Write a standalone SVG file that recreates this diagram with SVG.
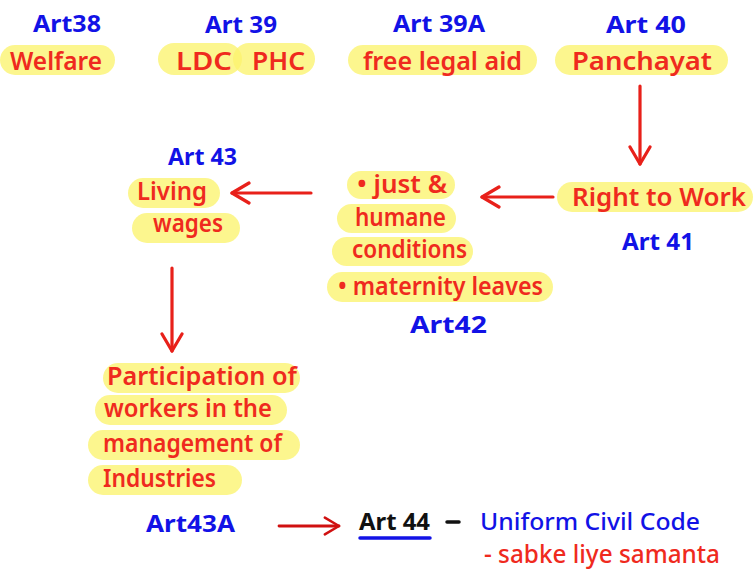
<svg xmlns="http://www.w3.org/2000/svg" width="753" height="570" viewBox="0 0 753 570">
<defs>
<marker id="ah" viewBox="0 0 24 24" refX="21" refY="12" markerWidth="24" markerHeight="24" markerUnits="userSpaceOnUse" orient="auto">
<path d="M4,2 L21,12 L4,22" fill="none" stroke="#e8201a" stroke-width="3.2" stroke-linecap="round" stroke-linejoin="round"/>
</marker>
<marker id="ah2" viewBox="0 0 24 24" refX="21" refY="12" markerWidth="20" markerHeight="20" markerUnits="userSpaceOnUse" orient="auto">
<path d="M4,2 L21,12 L4,22" fill="none" stroke="#d01010" stroke-width="3" stroke-linecap="round" stroke-linejoin="round"/>
</marker>
</defs>
<style>
.hl{fill:#fbf36e;opacity:0.78}
.r{fill:#ef2a1e;font-family:"Noto Sans",sans-serif;font-size:25px;font-weight:600}
.b{fill:#1212e6;font-family:"Noto Sans",sans-serif;font-size:23px;font-weight:700}
.k{fill:#111;font-family:"Noto Sans",sans-serif;font-size:23px;font-weight:700}
.c{stroke:#e8201a;stroke-width:3.2;fill:none;stroke-linecap:round}
</style>
<rect width="753" height="570" fill="#fff"/>

<g id="art38">
<text class="b" x="33" y="32" textLength="68" lengthAdjust="spacingAndGlyphs">Art38</text>
<rect class="hl" x="0" y="45" width="115" height="30" rx="15"/>
<text class="r" x="10" y="70" textLength="92" lengthAdjust="spacingAndGlyphs">Welfare</text>
</g>
<g id="art39">
<text class="b" x="205" y="33" textLength="72" lengthAdjust="spacingAndGlyphs">Art 39</text>
<rect class="hl" x="158" y="43" width="84" height="32" rx="16"/>
<rect class="hl" x="233" y="43" width="82" height="32" rx="16"/>
<text class="r" x="176" y="70" textLength="56" lengthAdjust="spacingAndGlyphs">LDC</text>
<text class="r" x="252" y="70" textLength="53" lengthAdjust="spacingAndGlyphs">PHC</text>
</g>
<g id="art39a">
<text class="b" x="393" y="32" textLength="92" lengthAdjust="spacingAndGlyphs">Art 39A</text>
<rect class="hl" x="348" y="45" width="189" height="30" rx="15"/>
<text class="r" x="363" y="70" textLength="159" lengthAdjust="spacingAndGlyphs">free legal aid</text>
</g>
<g id="art40">
<text class="b" x="606" y="33" textLength="80" lengthAdjust="spacingAndGlyphs">Art 40</text>
<rect class="hl" x="555" y="45" width="173" height="30" rx="15"/>
<text class="r" x="572" y="70" textLength="140" lengthAdjust="spacingAndGlyphs">Panchayat</text>
</g>
<g id="art41">
<rect class="hl" x="557" y="182" width="196" height="30" rx="15"/>
<text class="r" x="572" y="206" textLength="174" lengthAdjust="spacingAndGlyphs">Right to Work</text>
<text class="b" x="622" y="250" textLength="72" lengthAdjust="spacingAndGlyphs">Art 41</text>
</g>
<g id="art42">
<rect class="hl" x="347" y="171" width="108" height="28" rx="14"/>
<rect class="hl" x="337" y="204" width="119" height="29" rx="14.5"/>
<rect class="hl" x="332" y="237" width="141" height="29" rx="14.5"/>
<rect class="hl" x="327" y="272" width="226" height="30" rx="15"/>
<text class="r" x="357" y="193" textLength="90" lengthAdjust="spacingAndGlyphs">• just &amp;</text>
<text class="r" x="355" y="226" textLength="91" lengthAdjust="spacingAndGlyphs">humane</text>
<text class="r" x="352" y="258" textLength="115" lengthAdjust="spacingAndGlyphs">conditions</text>
<text class="r" x="338" y="295" textLength="205" lengthAdjust="spacingAndGlyphs">• maternity leaves</text>
<text class="b" x="410" y="333" textLength="77" lengthAdjust="spacingAndGlyphs">Art42</text>
</g>
<g id="art43">
<text class="b" x="168" y="165" textLength="69" lengthAdjust="spacingAndGlyphs">Art 43</text>
<rect class="hl" x="128" y="178" width="92" height="30" rx="15"/>
<rect class="hl" x="132" y="213" width="108" height="30" rx="15"/>
<text class="r" x="137" y="200" textLength="70" lengthAdjust="spacingAndGlyphs">Living</text>
<text class="r" x="153" y="232" textLength="70" lengthAdjust="spacingAndGlyphs">wages</text>
</g>
<g id="art43a">
<rect class="hl" x="103" y="363" width="197" height="30" rx="15"/>
<rect class="hl" x="95" y="395" width="192" height="30" rx="15"/>
<rect class="hl" x="88" y="430" width="212" height="30" rx="15"/>
<rect class="hl" x="88" y="465" width="154" height="30" rx="15"/>
<text class="r" x="107" y="385" textLength="190" lengthAdjust="spacingAndGlyphs">Participation of</text>
<text class="r" x="104" y="417" textLength="168" lengthAdjust="spacingAndGlyphs">workers in the</text>
<text class="r" x="103" y="452" textLength="179" lengthAdjust="spacingAndGlyphs">management of</text>
<text class="r" x="103" y="487" textLength="113" lengthAdjust="spacingAndGlyphs">Industries</text>
<text class="b" x="146" y="532" textLength="89" lengthAdjust="spacingAndGlyphs">Art43A</text>
</g>
<g id="art44">
<text class="k" x="359" y="530" textLength="71" lengthAdjust="spacingAndGlyphs">Art 44</text>
<line x1="360" y1="538" x2="430" y2="538" stroke="#1212e6" stroke-width="3.5" stroke-linecap="round"/>
<line x1="447" y1="522" x2="459" y2="522" stroke="#111" stroke-width="3.5" stroke-linecap="round"/>
<text class="b" x="480" y="530" textLength="220" lengthAdjust="spacingAndGlyphs" style="font-weight:500">Uniform Civil Code</text>
<text class="r" x="484" y="563" textLength="236" lengthAdjust="spacingAndGlyphs" style="font-weight:500">- sabke liye samanta</text>
</g>

<g id="connectors">
<line class="c" x1="640" y1="86" x2="640" y2="164" marker-end="url(#ah)"/>
<line class="c" x1="553" y1="197" x2="482" y2="197" marker-end="url(#ah)"/>
<line class="c" x1="311" y1="193" x2="232" y2="193" marker-end="url(#ah)"/>
<line class="c" x1="172" y1="268" x2="172" y2="351" marker-end="url(#ah)"/>
<line x1="279" y1="526" x2="339" y2="526" stroke="#d01010" stroke-width="2.8" stroke-linecap="round" marker-end="url(#ah2)"/>
</g>
</svg>
